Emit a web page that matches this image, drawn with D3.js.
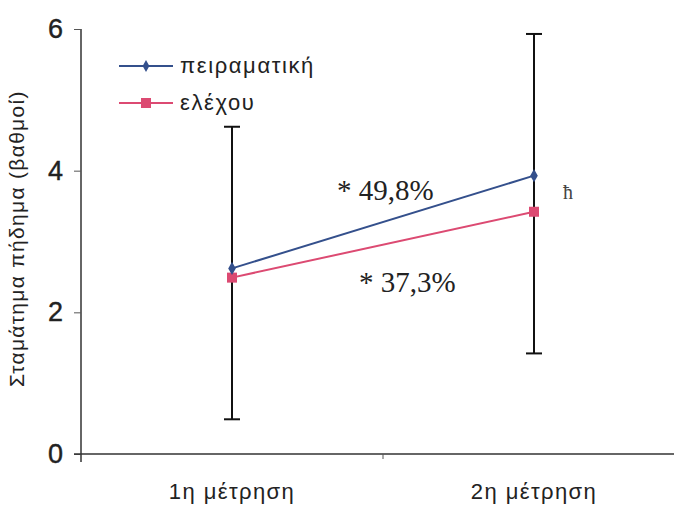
<!DOCTYPE html>
<html>
<head>
<meta charset="utf-8">
<script src="https://cdn.jsdelivr.net/npm/d3@7"></script>
<style>
  body { margin: 0; background: #fff; }
  text { font-family: "Liberation Sans", Arial, sans-serif; }
  .note { font-family: "Liberation Serif", "Times New Roman", serif; }
</style>
</head>
<body>
<div id="chart"></div>
<script>
// data
var categories = ["1η μέτρηση", "2η μέτρηση"];
var experimental = [2.62, 3.93];
var control = [2.49, 3.42];
var expUpperErr = [2.0, 2.0];
var ctrlLowerErr = [2.0, 2.0];
var yTicks = [0, 2, 4, 6];
var seriesNames = ["πειραματική", "ελέχου"];
var notes = ["* 49,8%", "* 37,3%"];

var width = 674, height = 506;
var margin = { top: 29, right: -11, bottom: 52, left: 81 };
var chartWidth = width - margin.left - margin.right;
var chartHeight = height - margin.top - margin.bottom;

var blue = "#34508c", red = "#dc4a72";

var svg = d3
  .select("#chart")
  .append("svg")
  .attr("width", width)
  .attr("height", height)
  .append("g")
  .attr("transform", "translate(" + margin.left + "," + margin.top + ")");

var xScale = d3.scaleBand().domain(categories).range([0, chartWidth]);
var yScale = d3.scaleLinear().domain([0, 6]).range([chartHeight, 0]);

function cx(i) {
  return xScale(categories[i]) + xScale.bandwidth() / 2;
}

// axes
var yAxis = d3.axisLeft(yScale).tickValues(yTicks).tickFormat(d3.format("d")).tickSize(7).tickPadding(11);
var gy = svg.append("g").attr("class", "y-axis").call(yAxis);
gy.select(".domain").attr("d", "M0,0V" + (chartHeight + 8)).attr("stroke", "#333").attr("stroke-width", 1.5);
gy.selectAll(".tick line").attr("stroke", "#555");
gy.selectAll(".tick text")
  .style("font-size", "27px")
  .attr("fill", "#222")
  .attr("stroke", "#222")
  .attr("stroke-width", 0.4);

var xAxis = d3.axisBottom(xScale).tickSize(0).tickPadding(29);
var gx = svg
  .append("g")
  .attr("class", "x-axis")
  .attr("transform", "translate(0," + chartHeight + ")")
  .call(xAxis);
gx.select(".domain").attr("d", "M-7,0H" + chartWidth).attr("stroke", "#333").attr("stroke-width", 1.5);
gx.selectAll(".tick text").style("font-size", "22px").style("letter-spacing", "1.4px").attr("fill", "#222");
// small tick between the categories
gx.append("line")
  .attr("x1", xScale(categories[1]))
  .attr("x2", xScale(categories[1]))
  .attr("y1", 0)
  .attr("y2", 5)
  .attr("stroke", "#555");

// y title
svg
  .append("text")
  .text("Σταμάτημα πήδημα (βαθμοί)")
  .attr("transform", "rotate(-90)")
  .attr("x", -yScale(3.04))
  .attr("y", -57)
  .attr("text-anchor", "middle")
  .style("font-size", "21px")
  .style("letter-spacing", "1.3px")
  .attr("fill", "#222");

// error bars
function errBar(i, lo, hi) {
  var g = svg.append("g").attr("stroke", "#111").attr("stroke-width", 2);
  g.append("line").attr("x1", cx(i)).attr("x2", cx(i)).attr("y1", yScale(lo)).attr("y2", yScale(hi));
  [lo, hi].forEach(function(v) {
    g.append("line")
      .attr("x1", cx(i) - 8)
      .attr("x2", cx(i) + 8)
      .attr("y1", yScale(v))
      .attr("y2", yScale(v));
  });
}
categories.forEach(function(c, i) {
  errBar(i, control[i] - ctrlLowerErr[i], experimental[i] + expUpperErr[i]);
});

// lines
var line = d3
  .line()
  .x(function(d, i) { return cx(i); })
  .y(function(d) { return yScale(d); });

svg.append("path").datum(control).attr("d", line).attr("fill", "none").attr("stroke", red).attr("stroke-width", 2);
svg.append("path").datum(experimental).attr("d", line).attr("fill", "none").attr("stroke", blue).attr("stroke-width", 2);

// markers
svg
  .selectAll(".sq")
  .data(control)
  .enter()
  .append("rect")
  .attr("x", function(d, i) { return cx(i) - 5; })
  .attr("y", function(d) { return yScale(d) - 5; })
  .attr("width", 10)
  .attr("height", 10)
  .attr("fill", red);

svg
  .selectAll(".dm")
  .data(experimental)
  .enter()
  .append("path")
  .attr("d", d3.symbol(d3.symbolDiamond, 50))
  .attr("transform", function(d, i) { return "translate(" + cx(i) + "," + yScale(d) + ")"; })
  .attr("fill", blue);

// legend
var legend = svg.append("g").attr("transform", "translate(38,37)");
[blue, red].forEach(function(col, i) {
  var y = i * 37;
  legend.append("line").attr("x1", 0).attr("x2", 54).attr("y1", y).attr("y2", y).attr("stroke", col).attr("stroke-width", 2);
  if (i === 0) {
    legend.append("path").attr("d", d3.symbol(d3.symbolDiamond, 40)).attr("transform", "translate(27," + y + ")").attr("fill", col);
  } else {
    legend.append("rect").attr("x", 22).attr("y", y - 5).attr("width", 10).attr("height", 10).attr("fill", col);
  }
  legend
    .append("text")
    .text(seriesNames[i])
    .attr("x", 61)
    .attr("y", y + 7)
    .style("font-size", "22px")
    .style("letter-spacing", "1.6px")
    .attr("fill", "#222");
});

// annotations
svg.append("text").attr("class", "note").text(notes[0])
  .attr("x", 256).attr("y", yScale(3.59)).style("font-size", "29px").attr("fill", "#222");
svg.append("text").attr("class", "note").text(notes[1])
  .attr("x", 278).attr("y", yScale(2.29)).style("font-size", "29px").attr("fill", "#222");
svg.append("text").attr("class", "note").text("ħ")
  .attr("x", cx(1) + 29).attr("y", yScale(3.6)).style("font-size", "20px").attr("fill", "#444");
</script>
</body>
</html>
